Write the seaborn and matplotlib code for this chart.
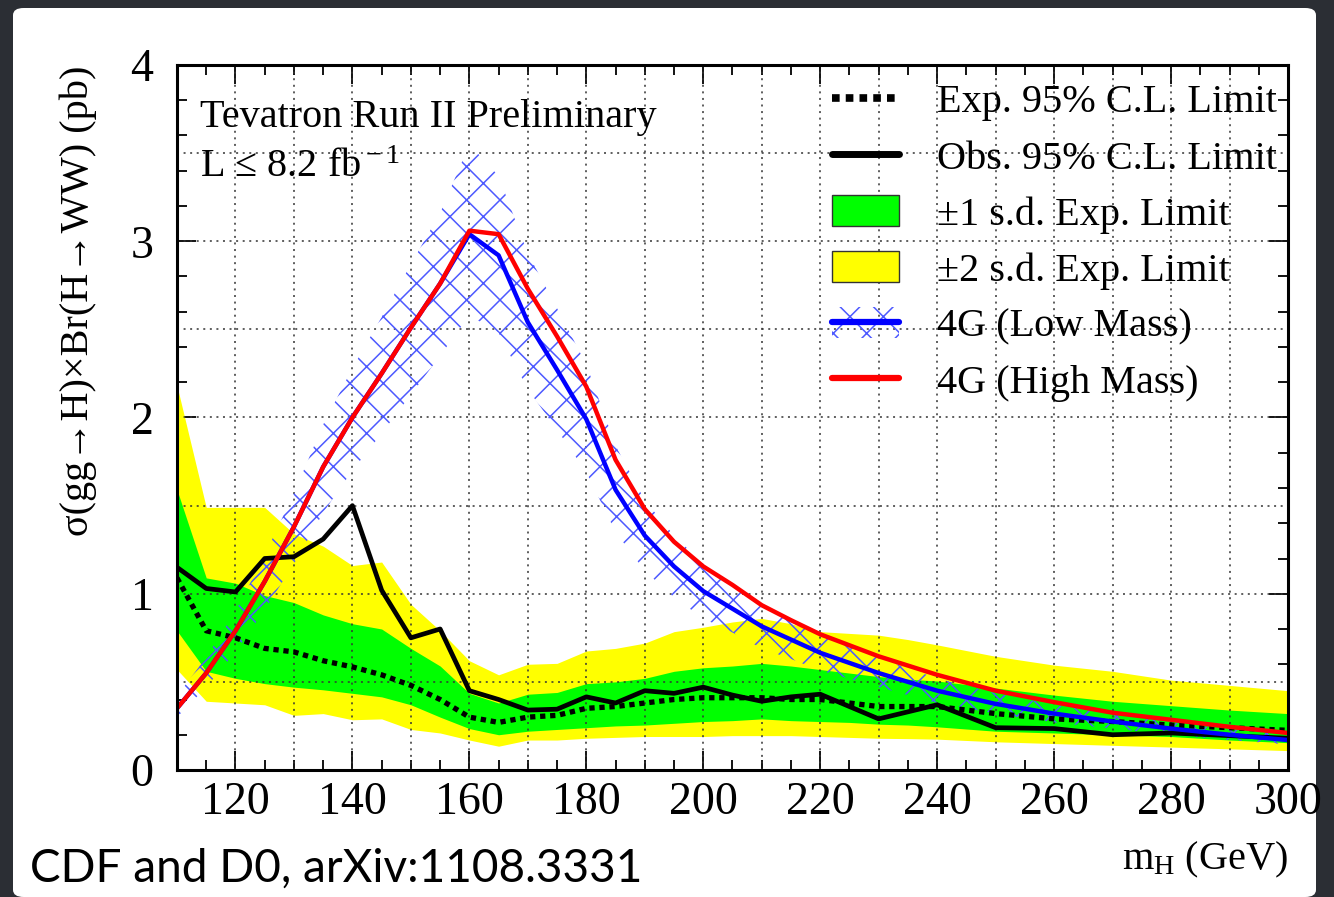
import matplotlib
matplotlib.use("Agg")
import matplotlib.pyplot as plt
import seaborn as sns
import numpy as np
import pandas as pd
from matplotlib.patches import Patch, FancyBboxPatch
from matplotlib.lines import Line2D
from matplotlib.ticker import MultipleLocator

# ---------------- data ----------------
mass = [110, 115, 120, 125, 130, 135, 140, 145, 150, 155, 160, 165, 170, 175,
        180, 185, 190, 195, 200, 205, 210, 215, 220, 225, 230, 235, 240,
        250, 260, 270, 280, 290, 300]
obs = [1.15, 1.03, 1.01, 1.20, 1.21, 1.31, 1.50, 1.02, 0.75, 0.80, 0.45, 0.40, 0.34, 0.345,
       0.415, 0.38, 0.45, 0.435, 0.47, 0.425, 0.39, 0.415, 0.43, 0.36, 0.29, 0.33, 0.37,
       0.24, 0.235, 0.20, 0.21, 0.195, 0.18]
exp = [1.09, 0.79, 0.75, 0.69, 0.67, 0.62, 0.585, 0.54, 0.48, 0.40, 0.30, 0.27, 0.30, 0.31,
       0.35, 0.36, 0.38, 0.40, 0.41, 0.41, 0.41, 0.40, 0.40, 0.38, 0.36, 0.36, 0.36,
       0.32, 0.29, 0.275, 0.255, 0.24, 0.225]
p1s = [1.59, 1.09, 1.06, 0.99, 0.95, 0.88, 0.83, 0.80, 0.69, 0.59, 0.435, 0.38, 0.43, 0.44,
       0.49, 0.50, 0.52, 0.56, 0.58, 0.59, 0.605, 0.59, 0.57, 0.55, 0.53, 0.515, 0.505,
       0.465, 0.425, 0.39, 0.365, 0.34, 0.32]
m1s = [0.79, 0.56, 0.52, 0.49, 0.47, 0.455, 0.435, 0.415, 0.37, 0.30, 0.235, 0.20, 0.22, 0.23,
       0.24, 0.25, 0.255, 0.265, 0.275, 0.28, 0.29, 0.28, 0.275, 0.27, 0.26, 0.255, 0.245,
       0.22, 0.21, 0.20, 0.19, 0.17, 0.155]
p2s = [2.18, 1.49, 1.49, 1.49, 1.34, 1.27, 1.16, 1.18, 0.94, 0.79, 0.62, 0.54, 0.60, 0.605,
       0.675, 0.69, 0.72, 0.785, 0.81, 0.84, 0.86, 0.83, 0.785, 0.775, 0.765, 0.74, 0.71,
       0.645, 0.595, 0.56, 0.51, 0.48, 0.45]
m2s = [0.57, 0.39, 0.38, 0.37, 0.31, 0.32, 0.285, 0.29, 0.23, 0.21, 0.17, 0.135, 0.17, 0.17,
       0.18, 0.185, 0.19, 0.19, 0.19, 0.195, 0.195, 0.195, 0.19, 0.185, 0.18, 0.178, 0.175,
       0.16, 0.15, 0.14, 0.13, 0.12, 0.11]

mass_4g = [110, 115, 120, 125, 130, 135, 140, 145, 150, 155, 160, 165, 170, 175, 180,
           185, 190, 195, 200, 205, 210, 215, 220, 230, 240, 250, 260, 270, 280, 290, 300]
g4_high = [0.35, 0.55, 0.79, 1.07, 1.38, 1.72, 2.00, 2.25, 2.51, 2.76, 3.06, 3.04, 2.73, 2.46, 2.175,
           1.76, 1.48, 1.295, 1.155, 1.05, 0.935, 0.85, 0.77, 0.645, 0.54, 0.45, 0.385, 0.325, 0.285, 0.245, 0.21]
g4_low = [0.35, 0.55, 0.79, 1.07, 1.38, 1.72, 2.00, 2.25, 2.51, 2.76, 3.04, 2.92, 2.54, 2.27, 1.99,
          1.59, 1.33, 1.155, 1.015, 0.915, 0.815, 0.74, 0.665, 0.55, 0.45, 0.375, 0.32, 0.275, 0.235, 0.20, 0.17]
g4_low_hi = [0.42, 0.64, 0.90, 1.22, 1.57, 1.96, 2.28, 2.57, 2.87, 3.16, 3.55, 3.37, 2.93, 2.62, 2.30,
             1.84, 1.53, 1.33, 1.17, 1.06, 0.94, 0.85, 0.77, 0.635, 0.52, 0.435, 0.37, 0.32, 0.27, 0.23, 0.20]
g4_low_lo = [0.30, 0.47, 0.67, 0.91, 1.17, 1.46, 1.70, 1.91, 2.13, 2.35, 2.58, 2.48, 2.16, 1.93, 1.69,
             1.35, 1.13, 0.98, 0.86, 0.78, 0.69, 0.63, 0.565, 0.47, 0.38, 0.32, 0.27, 0.235, 0.20, 0.17, 0.145]

xtick_vals = [120, 140, 160, 180, 200, 220, 240, 260, 280, 300]
legend_labels = ["Exp. 95% C.L. Limit", "Obs. 95% C.L. Limit", "\u00b11 s.d. Exp. Limit",
                 "\u00b12 s.d. Exp. Limit", "4G (Low Mass)", "4G (High Mass)"]

# ---------------- style ----------------
sns.set_theme(style="ticks")
plt.rcParams["font.family"] = ["Liberation Serif", "DejaVu Serif"]
plt.rcParams["mathtext.fontset"] = "custom"
plt.rcParams["mathtext.rm"] = "Liberation Serif"
plt.rcParams["mathtext.it"] = "Liberation Serif:italic"
plt.rcParams["mathtext.bf"] = "Liberation Serif:bold"
plt.rcParams["hatch.linewidth"] = 1.1
for k in ["text.color", "axes.labelcolor", "xtick.color", "ytick.color", "axes.edgecolor"]:
    plt.rcParams[k] = "black"

W, H = 1334, 897
def fx(px):
    return px / W
def fy(py):
    return 1 - py / H

fig = plt.figure(figsize=(13.34, 8.97), dpi=100)
fig.patch.set_facecolor("#2b2e34")
panel = FancyBboxPatch((fx(13), 0), fx(1316) - fx(13), fy(8),
                       boxstyle="round,pad=0,rounding_size=0.008",
                       transform=fig.transFigure, facecolor="white",
                       edgecolor="none", zorder=-10)
fig.patches.append(panel)

ax = fig.add_axes([fx(177), fy(770), fx(1288) - fx(177), fy(65) - fy(770)])
ax.set_zorder(1)
ax.set_facecolor("white")

YELLOW = "#ffff00"
GREEN = "#00ff00"
HATCHBLUE = (0.3, 0.35, 1.0)

ax.fill_between(mass, m2s, p2s, color=YELLOW, lw=0, zorder=1)
ax.fill_between(mass, m1s, p1s, color=GREEN, lw=0, zorder=1.1)

# dotted grid
for v in range(120, 300, 10):
    ax.axvline(v, color="#333333", lw=1.1, ls=(0, (1.3, 3.0)), zorder=1.5)
for h in [0.5, 1.0, 1.5, 2.0, 2.5, 3.0, 3.5]:
    ax.axhline(h, color="#333333", lw=1.1, ls=(0, (1.3, 3.0)), zorder=1.5)

ax.fill_between(mass_4g, g4_low_lo, g4_low_hi, facecolor="none", edgecolor=HATCHBLUE,
                hatch="x", lw=0, zorder=2)

sns.lineplot(x=mass, y=exp, ax=ax, color="black", lw=3.8, linestyle=(0, (1, 0.9)),
             zorder=3, sort=False, estimator=None)
sns.lineplot(x=mass, y=obs, ax=ax, color="black", lw=3.4, zorder=3.1, sort=False, estimator=None)
sns.lineplot(x=mass_4g, y=g4_low, ax=ax, color="#0000ff", lw=3.2, zorder=3.2, sort=False, estimator=None)
sns.lineplot(x=mass_4g, y=g4_high, ax=ax, color="#ff0000", lw=3.2, zorder=3.3, sort=False, estimator=None)

ax.set_xlim(110, 300)
ax.set_ylim(0, 4)
ax.set_xticks(xtick_vals)
ax.xaxis.set_minor_locator(MultipleLocator(5))
ax.yaxis.set_major_locator(MultipleLocator(1))
ax.yaxis.set_minor_locator(MultipleLocator(0.2))
ax.tick_params(which="both", direction="in", top=True, right=True, color="black", width=1.3)
ax.tick_params(which="major", length=14)
ax.tick_params(which="minor", length=7)
ax.tick_params(axis="x", labelsize=33, pad=8)
ax.tick_params(axis="y", labelsize=33, pad=17)
ax.set_xlabel("")
ax.set_ylabel("")
for s in ax.spines.values():
    s.set_linewidth(2.2)
    s.set_color("black")
    s.set_zorder(5)

# texts
fig.text(fx(78), fy(301), "\u03c3(gg\u2192H)\u00d7Br(H\u2192WW) (pb)", rotation=90,
         ha="center", va="center", fontsize=29)
fig.text(fx(1288), fy(869), r"m$_{\rm H}$ (GeV)", ha="right", va="baseline", fontsize=29)
fig.text(fx(200), fy(127), "Tevatron Run II Preliminary", ha="left", va="baseline", fontsize=29)
fig.text(fx(200), fy(177), "L \u2264 8.2 fb$^{\\rm -1}$", ha="left", va="baseline", fontsize=29)
fig.text(fx(30), fy(882), "CDF and D0, arXiv:1108.3331", ha="left", va="baseline",
         fontsize=33, family=["Lato", "DejaVu Sans"])

# legend
h_exp = Line2D([], [], color="black", lw=5.5, ls=(0, (1, 0.8)))
h_obs = Line2D([], [], color="black", lw=5)
h_g = Patch(facecolor=GREEN, edgecolor="#333333", lw=1)
h_y = Patch(facecolor=YELLOW, edgecolor="#333333", lw=1)
h_low = (Patch(facecolor="none", edgecolor=HATCHBLUE, hatch="x", lw=0),
         Line2D([], [], color="#0000ff", lw=4.5))
h_high = Line2D([], [], color="#ff0000", lw=4.5)
leg = fig.legend([h_exp, h_obs, h_g, h_y, h_low, h_high], legend_labels,
                 loc="upper left", bbox_to_anchor=(fx(832), fy(83)), frameon=False,
                 fontsize=29, handlelength=1.66, handleheight=0.8, handletextpad=0.94,
                 labelspacing=0.44, borderpad=0, borderaxespad=0)
leg.set_zorder(10)

fig.savefig("out.png", dpi=100, facecolor=fig.get_facecolor())
